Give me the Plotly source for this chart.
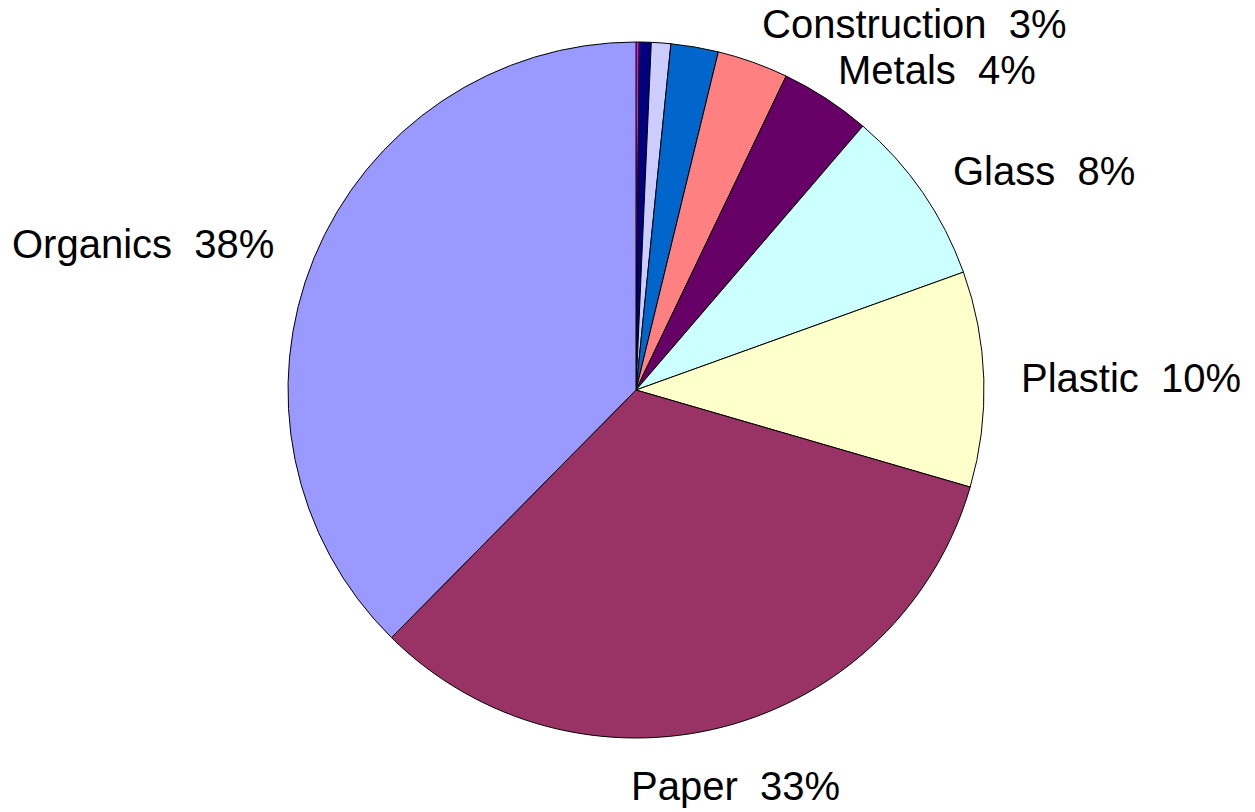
import plotly.graph_objects as go

# Slices in clockwise order starting at 12 o'clock
labels = ["Other 1", "Other 2", "Other 3", "Other 4", "Construction", "Metals",
          "Glass", "Plastic", "Paper", "Organics"]
values = [0.15, 0.55, 0.9, 2.2, 3.3, 4.2, 8.2, 10.0, 32.9, 37.6]
shown = [False, False, False, False, True, True, True, True, True, True]
colors = ["#FF00FF", "#000080", "#CCCCFF", "#0066CC", "#FF8080", "#660066",
          "#CCFFFF", "#FFFFCC", "#993366", "#9999FF"]

# Page body has an 8px margin; positions below are in figure pixels
OFF = 8
label_pos = {
    "Construction": (914 - OFF, 24 - OFF),
    "Metals": (937 - OFF, 70 - OFF),
    "Glass": (1044 - OFF, 171 - OFF),
    "Plastic": (1131 - OFF, 378 - OFF),
    "Paper": (735 - OFF, 786 - OFF),
    "Organics": (143 - OFF, 244 - OFF),
}

W, H = 1255, 812
cx, cy, r = 636 - OFF, 390 - OFF, 348

fig = go.Figure(go.Pie(
    labels=labels,
    values=values,
    sort=False,
    direction="clockwise",
    rotation=0,
    textinfo="none",
    hoverinfo="label+percent",
    marker=dict(colors=colors, line=dict(color="black", width=1)),
    domain=dict(x=[(cx - r) / W, (cx + r) / W],
                y=[(H - cy - r) / H, (H - cy + r) / H]),
    showlegend=False,
))

total = sum(values)
annotations = []
for lab, val, s in zip(labels, values, shown):
    if not s:
        continue
    px, py = label_pos[lab]
    annotations.append(dict(
        text=f"{lab}&nbsp;&nbsp;{round(100 * val / total)}%",
        x=px / W, y=1 - py / H, xref="paper", yref="paper",
        xanchor="center", yanchor="middle", showarrow=False,
        font=dict(family="Liberation Sans, Arial, sans-serif", size=40, color="black"),
    ))

fig.update_layout(
    width=W, height=H,
    margin=dict(l=0, r=0, t=0, b=0),
    paper_bgcolor="white",
    plot_bgcolor="white",
    annotations=annotations,
)

fig.write_html("out.html")
